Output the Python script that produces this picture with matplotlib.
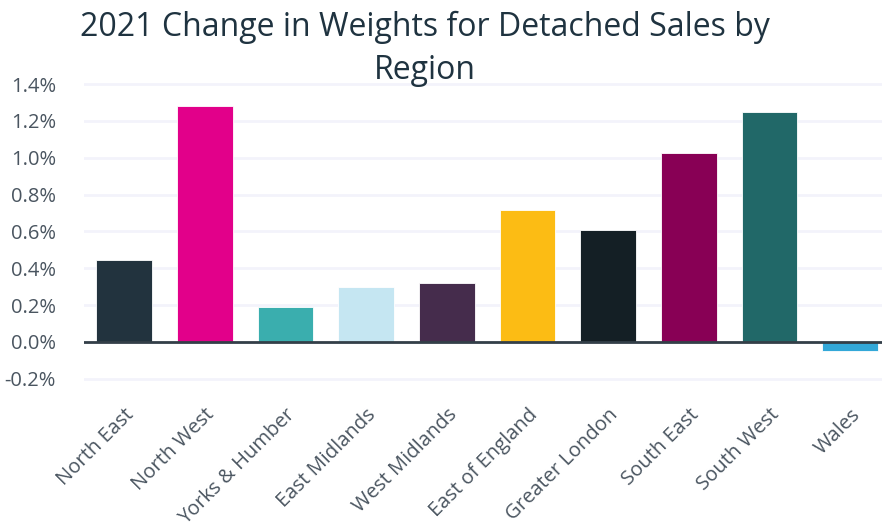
import matplotlib
matplotlib.use("Agg")
import matplotlib.pyplot as plt
from matplotlib.ticker import FuncFormatter, MultipleLocator

regions = ["North East", "North West", "Yorks & Humber", "East Midlands", "West Midlands",
           "East of England", "Greater London", "South East", "South West", "Wales"]
changes = [0.445, 1.28, 0.19, 0.30, 0.32, 0.716, 0.61, 1.024, 1.246, -0.05]
colors = ["#22333e", "#e2008a", "#3aaeae", "#c5e6f2", "#452c4c",
          "#fcbc14", "#141f25", "#880055", "#216868", "#33a8d8"]
title = "2021 Change in Weights for Detached Sales by\nRegion"

plt.rcParams['font.family'] = ['Open Sans', 'DejaVu Sans']

fig = plt.figure(figsize=(8.82, 5.22), dpi=100)
ax = fig.add_axes([0.0949, 0.2567, 0.9146, 0.600])

x = list(range(len(regions)))
ax.bar(x, changes, width=0.69, color=colors, edgecolor="white", linewidth=0.6, zorder=3)

ax.set_xlim(-0.5, 9.5)
ax.set_ylim(-0.25, 1.45)
ax.yaxis.set_major_locator(MultipleLocator(0.2))
ax.yaxis.set_major_formatter(FuncFormatter(lambda v, p: f"{v:.1f}%"))
ax.grid(axis="y", color="#f3f3fb", linewidth=2, zorder=0)
ax.axhline(0, color="#333f48", linewidth=2, zorder=4)

for s in ax.spines.values():
    s.set_visible(False)
ax.tick_params(axis="both", length=0, colors="#4a5560")
ax.tick_params(axis="y", pad=20, labelsize=14.5)
ax.set_xticks(x)
ax.set_xticklabels(regions, rotation=45, ha="right", rotation_mode="anchor", fontsize=14.5)
ax.tick_params(axis="x", pad=12)

fig.text(0.482, 0.98, title, ha="center", va="top", fontsize=23, color="#1f3340",
         linespacing=1.4)

fig.savefig("out.png", dpi=100)
